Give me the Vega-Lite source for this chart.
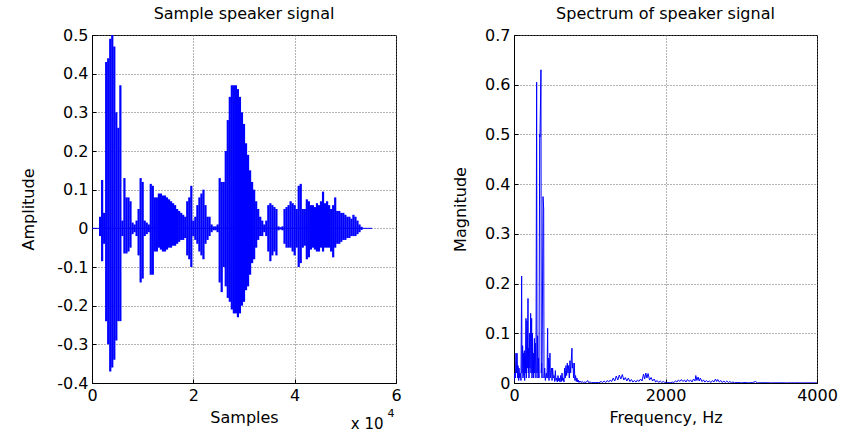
{
"$schema":"https://vega.github.io/schema/vega-lite/v6.json",
"background":"white",
"padding":{"left":20,"top":5,"right":5,"bottom":0},
"spacing":118,
"bounds":"flush",
"config":{
 "view":{"stroke":"black","strokeWidth":1},
 "font":"DejaVu Sans",
 "title":{"font":"DejaVu Sans","fontSize":16,"fontWeight":"normal","color":"black","offset":5},
 "axis":{"labelFont":"DejaVu Sans","labelFontSize":16,"labelColor":"black","titleFont":"DejaVu Sans","titleFontSize":16,"titleFontWeight":"normal","titleColor":"black","domainColor":"black","tickColor":"black","tickSize":-4,"labelPadding":8,"gridColor":"#666","gridDash":[1,2],"gridWidth":1,"labelFlush":false,"labelOverlap":false}
},
"datasets":{
"signal":[
{"s":0,"hi":0,"lo":0},{"s":1500,"hi":0,"lo":0},
{"s":1600,"hi":0.03,"lo":-0.02},
{"s":2000,"hi":0.125,"lo":-0.085},
{"s":2400,"hi":0.04,"lo":-0.04},
{"s":2800,"hi":0.43,"lo":-0.24},
{"s":3200,"hi":0.44,"lo":-0.30},
{"s":3600,"hi":0.49,"lo":-0.37},
{"s":4000,"hi":0.50,"lo":-0.36},
{"s":4400,"hi":0.47,"lo":-0.34},
{"s":4800,"hi":0.30,"lo":-0.29},
{"s":5200,"hi":0.26,"lo":-0.24},
{"s":5600,"hi":0.37,"lo":-0.24},
{"s":6000,"hi":0.02,"lo":-0.02},
{"s":6400,"hi":0.13,"lo":-0.065},
{"s":6800,"hi":0.08,"lo":-0.065},
{"s":7200,"hi":0.08,"lo":-0.06},
{"s":7600,"hi":0.07,"lo":-0.05},
{"s":8000,"hi":0.015,"lo":-0.015},
{"s":8400,"hi":0.01,"lo":-0.01},
{"s":8800,"hi":0.02,"lo":-0.02},
{"s":9200,"hi":0.05,"lo":-0.07},
{"s":9600,"hi":0.13,"lo":-0.14},
{"s":10000,"hi":0.12,"lo":-0.13},
{"s":10400,"hi":0.02,"lo":-0.02},
{"s":10800,"hi":0.015,"lo":-0.015},
{"s":11200,"hi":0.01,"lo":-0.01},
{"s":11600,"hi":0.115,"lo":-0.12},
{"s":12000,"hi":0.11,"lo":-0.12},
{"s":12400,"hi":0.08,"lo":-0.06},
{"s":12800,"hi":0.08,"lo":-0.06},
{"s":13200,"hi":0.09,"lo":-0.05},
{"s":13600,"hi":0.09,"lo":-0.055},
{"s":14000,"hi":0.085,"lo":-0.06},
{"s":14400,"hi":0.085,"lo":-0.06},
{"s":14800,"hi":0.08,"lo":-0.055},
{"s":15200,"hi":0.075,"lo":-0.05},
{"s":15600,"hi":0.07,"lo":-0.05},
{"s":16000,"hi":0.065,"lo":-0.045},
{"s":16400,"hi":0.06,"lo":-0.045},
{"s":16800,"hi":0.05,"lo":-0.04},
{"s":17200,"hi":0.045,"lo":-0.035},
{"s":17600,"hi":0.04,"lo":-0.03},
{"s":18000,"hi":0.035,"lo":-0.03},
{"s":18400,"hi":0.03,"lo":-0.025},
{"s":18800,"hi":0.07,"lo":-0.07},
{"s":19200,"hi":0.08,"lo":-0.08},
{"s":19600,"hi":0.11,"lo":-0.10},
{"s":20000,"hi":0.02,"lo":-0.02},
{"s":20400,"hi":0.03,"lo":-0.03},
{"s":20800,"hi":0.06,"lo":-0.04},
{"s":21200,"hi":0.08,"lo":-0.06},
{"s":21600,"hi":0.09,"lo":-0.07},
{"s":22000,"hi":0.10,"lo":-0.08},
{"s":22400,"hi":0.06,"lo":-0.04},
{"s":22800,"hi":0.03,"lo":-0.03},
{"s":23200,"hi":0.03,"lo":-0.02},
{"s":23600,"hi":0.01,"lo":-0.01},
{"s":24000,"hi":0.005,"lo":-0.005},
{"s":24400,"hi":0.005,"lo":-0.005},
{"s":24800,"hi":0.01,"lo":-0.01},
{"s":25200,"hi":0.13,"lo":-0.14},
{"s":25600,"hi":0.12,"lo":-0.165},
{"s":26000,"hi":0.12,"lo":-0.10},
{"s":26400,"hi":0.20,"lo":-0.15},
{"s":26800,"hi":0.28,"lo":-0.18},
{"s":27200,"hi":0.34,"lo":-0.19},
{"s":27600,"hi":0.37,"lo":-0.21},
{"s":28000,"hi":0.37,"lo":-0.22},
{"s":28400,"hi":0.37,"lo":-0.22},
{"s":28800,"hi":0.36,"lo":-0.23},
{"s":29200,"hi":0.34,"lo":-0.22},
{"s":29600,"hi":0.30,"lo":-0.20},
{"s":30000,"hi":0.27,"lo":-0.19},
{"s":30400,"hi":0.22,"lo":-0.16},
{"s":30800,"hi":0.19,"lo":-0.15},
{"s":31200,"hi":0.15,"lo":-0.12},
{"s":31600,"hi":0.12,"lo":-0.09},
{"s":32000,"hi":0.10,"lo":-0.08},
{"s":32400,"hi":0.07,"lo":-0.05},
{"s":32800,"hi":0.05,"lo":-0.03},
{"s":33200,"hi":0.03,"lo":-0.02},
{"s":33600,"hi":0.02,"lo":-0.02},
{"s":34000,"hi":0.01,"lo":-0.01},
{"s":34400,"hi":0.02,"lo":-0.02},
{"s":34800,"hi":0.06,"lo":-0.06},
{"s":35200,"hi":0.065,"lo":-0.085},
{"s":35600,"hi":0.06,"lo":-0.07},
{"s":36000,"hi":0.055,"lo":-0.06},
{"s":36400,"hi":0.05,"lo":-0.07},
{"s":36800,"hi":0.005,"lo":-0.005},
{"s":37200,"hi":0.003,"lo":-0.003},
{"s":37600,"hi":0.005,"lo":-0.005},
{"s":38000,"hi":0.05,"lo":-0.04},
{"s":38400,"hi":0.055,"lo":-0.05},
{"s":38800,"hi":0.06,"lo":-0.05},
{"s":39200,"hi":0.07,"lo":-0.05},
{"s":39600,"hi":0.065,"lo":-0.06},
{"s":40000,"hi":0.06,"lo":-0.07},
{"s":40400,"hi":0.05,"lo":-0.05},
{"s":40800,"hi":0.11,"lo":-0.10},
{"s":41200,"hi":0.115,"lo":-0.09},
{"s":41600,"hi":0.05,"lo":-0.05},
{"s":42000,"hi":0.05,"lo":-0.045},
{"s":42400,"hi":0.075,"lo":-0.08},
{"s":42800,"hi":0.07,"lo":-0.075},
{"s":43200,"hi":0.06,"lo":-0.055},
{"s":43600,"hi":0.06,"lo":-0.05},
{"s":44000,"hi":0.055,"lo":-0.055},
{"s":44400,"hi":0.065,"lo":-0.06},
{"s":44800,"hi":0.06,"lo":-0.06},
{"s":45200,"hi":0.07,"lo":-0.05},
{"s":45600,"hi":0.095,"lo":-0.06},
{"s":46000,"hi":0.065,"lo":-0.05},
{"s":46400,"hi":0.07,"lo":-0.05},
{"s":46800,"hi":0.06,"lo":-0.05},
{"s":47200,"hi":0.05,"lo":-0.06},
{"s":47600,"hi":0.06,"lo":-0.075},
{"s":48000,"hi":0.08,"lo":-0.05},
{"s":48400,"hi":0.045,"lo":-0.04},
{"s":48800,"hi":0.045,"lo":-0.04},
{"s":49200,"hi":0.04,"lo":-0.035},
{"s":49600,"hi":0.04,"lo":-0.03},
{"s":50000,"hi":0.035,"lo":-0.03},
{"s":50400,"hi":0.03,"lo":-0.025},
{"s":50800,"hi":0.03,"lo":-0.025},
{"s":51200,"hi":0.025,"lo":-0.02},
{"s":51600,"hi":0.035,"lo":-0.02},
{"s":52000,"hi":0.03,"lo":-0.02},
{"s":52400,"hi":0.02,"lo":-0.015},
{"s":52800,"hi":0.01,"lo":-0.01},
{"s":53200,"hi":0.004,"lo":-0.004},
{"s":53400,"hi":0,"lo":0},{"s":55300,"hi":0,"lo":0}
],
"spectrum":[
{"f":0,"m":0.005},{"f":9,"m":0.02},{"f":18,"m":0.01},{"f":26,"m":0.06},{"f":35,"m":0.02},{"f":40,"m":0.06},{"f":48,"m":0.01},{"f":53,"m":0.035},{"f":62,"m":0.005},{"f":66,"m":0.03},{"f":75,"m":0.01},{"f":84,"m":0.02},{"f":92,"m":0.005},{"f":101,"m":0.215},{"f":106,"m":0.02},{"f":114,"m":0.075},{"f":119,"m":0.01},{"f":128,"m":0.06},{"f":132,"m":0.015},{"f":136,"m":0.065},{"f":141,"m":0.005},{"f":145,"m":0.055},{"f":150,"m":0.02},{"f":158,"m":0.13},{"f":163,"m":0.01},{"f":172,"m":0.125},{"f":176,"m":0.03},{"f":185,"m":0.17},{"f":189,"m":0.02},{"f":194,"m":0.07},{"f":198,"m":0.01},{"f":207,"m":0.1},{"f":211,"m":0.03},{"f":220,"m":0.14},{"f":224,"m":0.02},{"f":233,"m":0.13},{"f":238,"m":0.01},{"f":242,"m":0.1},{"f":247,"m":0.02},{"f":255,"m":0.06},{"f":260,"m":0.01},{"f":269,"m":0.09},{"f":273,"m":0.02},{"f":282,"m":0.08},{"f":290,"m":0.01},{"f":299,"m":0.605},{"f":304,"m":0.02},{"f":312,"m":0.095},{"f":317,"m":0.01},{"f":325,"m":0.05},{"f":330,"m":0.01},{"f":339,"m":0.5},{"f":343,"m":0.495},{"f":356,"m":0.63},{"f":360,"m":0.02},{"f":365,"m":0.04},{"f":370,"m":0.01},{"f":383,"m":0.375},{"f":392,"m":0.35},{"f":396,"m":0.01},{"f":405,"m":0.03},{"f":414,"m":0.005},{"f":427,"m":0.02},{"f":436,"m":0.01},{"f":444,"m":0.11},{"f":449,"m":0.01},{"f":458,"m":0.05},{"f":462,"m":0.005},{"f":475,"m":0.06},{"f":480,"m":0.01},{"f":488,"m":0.02},{"f":497,"m":0.03},{"f":502,"m":0.005},{"f":510,"m":0.03},{"f":519,"m":0.01},{"f":528,"m":0.015},{"f":537,"m":0.003},{"f":546,"m":0.025},{"f":554,"m":0.005},{"f":563,"m":0.01},{"f":572,"m":0.002},{"f":581,"m":0.015},{"f":590,"m":0.004},{"f":598,"m":0.01},{"f":607,"m":0.002},{"f":616,"m":0.015},{"f":625,"m":0.003},{"f":634,"m":0.02},{"f":642,"m":0.005},{"f":651,"m":0.01},{"f":660,"m":0.002},{"f":668,"m":0.03},{"f":677,"m":0.01},{"f":686,"m":0.035},{"f":695,"m":0.015},{"f":704,"m":0.04},{"f":712,"m":0.02},{"f":721,"m":0.035},{"f":730,"m":0.01},{"f":739,"m":0.045},{"f":748,"m":0.02},{"f":756,"m":0.045},{"f":765,"m":0.07},{"f":770,"m":0.03},{"f":778,"m":0.04},{"f":787,"m":0.01},{"f":796,"m":0.04},{"f":804,"m":0.005},{"f":813,"m":0.015},{"f":822,"m":0.003},{"f":831,"m":0.01},{"f":840,"m":0.002},{"f":849,"m":0.006},{"f":858,"m":0.001},{"f":870,"m":0.004},{"f":885,"m":0.001},{"f":900,"m":0.003},{"f":915,"m":0.001},{"f":935,"m":0.002},{"f":950,"m":0.001},{"f":972,"m":0.005},{"f":985,"m":0.001},{"f":1005,"m":0.002},{"f":1025,"m":0.0005},{"f":1045,"m":0.001},{"f":1070,"m":0.0005},{"f":1095,"m":0.001},{"f":1120,"m":0.0005},{"f":1150,"m":0.003},{"f":1170,"m":0.001},{"f":1190,"m":0.004},{"f":1210,"m":0.001},{"f":1230,"m":0.005},{"f":1250,"m":0.002},{"f":1270,"m":0.006},{"f":1290,"m":0.003},{"f":1310,"m":0.01},{"f":1330,"m":0.004},{"f":1350,"m":0.014},{"f":1370,"m":0.006},{"f":1390,"m":0.016},{"f":1410,"m":0.008},{"f":1430,"m":0.017},{"f":1450,"m":0.006},{"f":1470,"m":0.011},{"f":1490,"m":0.004},{"f":1510,"m":0.01},{"f":1530,"m":0.003},{"f":1550,"m":0.007},{"f":1570,"m":0.002},{"f":1590,"m":0.005},{"f":1610,"m":0.002},{"f":1630,"m":0.006},{"f":1650,"m":0.003},{"f":1670,"m":0.008},{"f":1690,"m":0.004},{"f":1710,"m":0.018},{"f":1725,"m":0.008},{"f":1740,"m":0.02},{"f":1755,"m":0.01},{"f":1770,"m":0.019},{"f":1790,"m":0.006},{"f":1810,"m":0.011},{"f":1830,"m":0.004},{"f":1850,"m":0.008},{"f":1870,"m":0.002},{"f":1890,"m":0.005},{"f":1910,"m":0.001},{"f":1930,"m":0.004},{"f":1950,"m":0.001},{"f":1970,"m":0.003},{"f":1990,"m":0.001},{"f":2010,"m":0.002},{"f":2030,"m":0.0005},{"f":2050,"m":0.001},{"f":2070,"m":0.0005},{"f":2090,"m":0.002},{"f":2110,"m":0.001},{"f":2130,"m":0.004},{"f":2150,"m":0.002},{"f":2170,"m":0.006},{"f":2190,"m":0.003},{"f":2210,"m":0.007},{"f":2230,"m":0.003},{"f":2250,"m":0.006},{"f":2270,"m":0.002},{"f":2290,"m":0.007},{"f":2310,"m":0.003},{"f":2330,"m":0.006},{"f":2350,"m":0.002},{"f":2370,"m":0.008},{"f":2390,"m":0.004},{"f":2400,"m":0.015},{"f":2415,"m":0.005},{"f":2430,"m":0.012},{"f":2445,"m":0.004},{"f":2460,"m":0.01},{"f":2480,"m":0.003},{"f":2500,"m":0.006},{"f":2520,"m":0.002},{"f":2540,"m":0.005},{"f":2560,"m":0.002},{"f":2580,"m":0.004},{"f":2600,"m":0.001},{"f":2620,"m":0.005},{"f":2640,"m":0.002},{"f":2660,"m":0.008},{"f":2675,"m":0.003},{"f":2690,"m":0.007},{"f":2710,"m":0.002},{"f":2730,"m":0.005},{"f":2750,"m":0.001},{"f":2770,"m":0.004},{"f":2790,"m":0.001},{"f":2810,"m":0.004},{"f":2830,"m":0.001},{"f":2850,"m":0.003},{"f":2870,"m":0.0005},{"f":2890,"m":0.002},{"f":2910,"m":0.0005},{"f":2950,"m":0.001},{"f":3000,"m":0.0003},{"f":3050,"m":0.0008},{"f":3100,"m":0.0003},{"f":3150,"m":0.0008},{"f":3190,"m":0.003},{"f":3210,"m":0.0003},{"f":3300,"m":0.0005},{"f":3400,"m":0.0002},{"f":3500,"m":0.0004},{"f":3600,"m":0.0002},{"f":3700,"m":0.0003},{"f":3800,"m":0.0002},{"f":3900,"m":0.0003},{"f":4000,"m":0.0002}
]
},
"hconcat":[
{
 "width":304,"height":348,
 "title":"Sample speaker signal",
 "encoding":{
  "x":{"type":"quantitative","scale":{"domain":[0,60000],"nice":false,"zero":false},
       "axis":{"title":"Samples","values":[0,20000,40000,60000],"labelExpr":"'' + datum.value/10000","grid":true,"titlePadding":6,"labelOverlap":false}},
  "y":{"type":"quantitative","scale":{"domain":[-0.4,0.5],"nice":false,"zero":false},
       "axis":{"title":"Amplitude","values":[-0.4,-0.3,-0.2,-0.1,0,0.1,0.2,0.3,0.4,0.5],"labelExpr":"'' + round(datum.value*10)/10","grid":true,"titlePadding":20,"labelOverlap":false}}
 },
 "layer":[
  {"data":{"name":"signal"},
   "mark":{"type":"rule","color":"#0000ff","strokeWidth":2.2,"clip":true},
   "encoding":{
    "x":{"field":"s"},
    "y":{"field":"lo"},
    "y2":{"field":"hi"}
   }},
  {"data":{"name":"signal"},
   "mark":{"type":"line","color":"#0000ff","strokeWidth":1,"clip":true},
   "encoding":{
    "x":{"field":"s"},
    "y":{"datum":0}
   }},
  {"data":{"values":[{}]},
   "mark":{"type":"text","text":"x 10","fontSize":15,"font":"DejaVu Sans","color":"black","align":"center","baseline":"top","dy":34},
   "encoding":{"x":{"datum":54300},"y":{"datum":-0.4}}},
  {"data":{"values":[{}]},
   "mark":{"type":"text","text":"4","fontSize":11,"font":"DejaVu Sans","color":"black","align":"center","baseline":"top","dy":25},
   "encoding":{"x":{"datum":59000},"y":{"datum":-0.4}}}
 ]
},
{
 "width":303,"height":348,
 "title":"Spectrum of speaker signal",
 "data":{"name":"spectrum"},
 "mark":{"type":"line","color":"#0000ff","strokeWidth":1,"clip":true},
 "encoding":{
  "x":{"field":"f","type":"quantitative","scale":{"domain":[0,4000],"nice":false},
       "axis":{"title":"Frequency, Hz","values":[0,2000,4000],"format":"d","grid":true,"titlePadding":6,"labelOverlap":false}},
  "y":{"field":"m","type":"quantitative","scale":{"domain":[0,0.7],"nice":false},
       "axis":{"title":"Magnitude","values":[0,0.1,0.2,0.3,0.4,0.5,0.6,0.7],"labelExpr":"'' + round(datum.value*10)/10","grid":true,"titlePadding":16,"labelOverlap":false}}
 }
}
]
}
